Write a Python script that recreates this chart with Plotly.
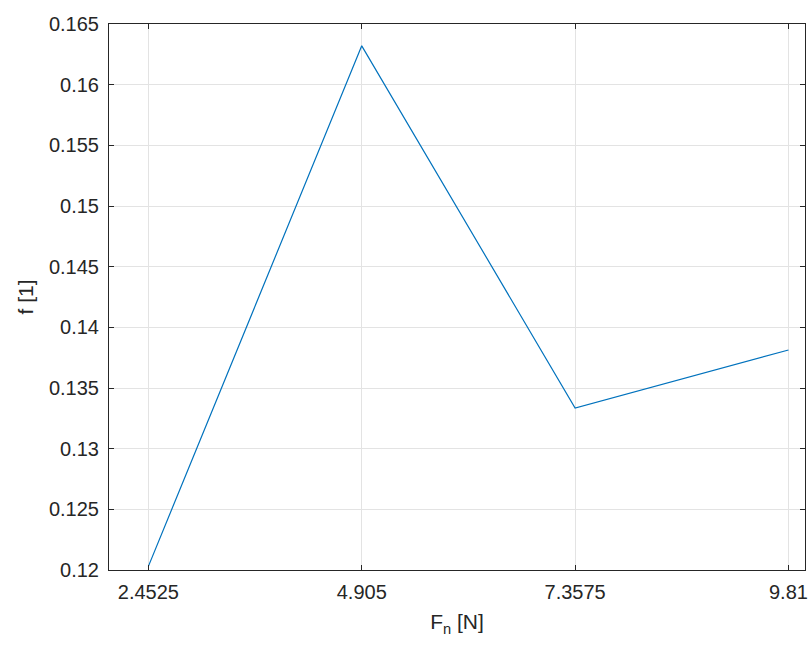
import plotly.graph_objects as go

Fn = [2.4525, 4.905, 7.3575, 9.81]
f = [0.1203, 0.1632, 0.13335, 0.13813]
xticks = [2.4525, 4.905, 7.3575, 9.81]
xticklabels = ["2.4525", "4.905", "7.3575", "9.81"]
yticks = [0.12, 0.125, 0.13, 0.135, 0.14, 0.145, 0.15, 0.155, 0.16, 0.165]
yticklabels = ["0.12", "0.125", "0.13", "0.135", "0.14", "0.145", "0.15", "0.155", "0.16", "0.165"]

fig = go.Figure()
fig.add_trace(go.Scatter(x=Fn, y=f, mode="lines",
                         line=dict(color="#0072BD", width=1.2), showlegend=False))

axcol = "#262626"
fnt = "Liberation Sans, Arial"
common = dict(showline=True, linecolor=axcol, linewidth=1, mirror="ticks",
              ticks="inside", ticklen=5, tickcolor=axcol, automargin=False,
              showgrid=True, gridcolor="#e3e3e3", gridwidth=1, zeroline=False,
              tickfont=dict(family=fnt, size=20, color=axcol))

fig.update_xaxes(range=[2, 10], tickvals=xticks, ticktext=xticklabels,
                 ticklabelstandoff=4,
                 title=dict(text="F<sub>n</sub> [N]", font=dict(family=fnt, size=21, color=axcol), standoff=12),
                 **common)
fig.update_yaxes(range=[0.12, 0.165], tickvals=yticks, ticktext=yticklabels,
                 ticklabelstandoff=5,
                 title=dict(text="f [1]", font=dict(family=fnt, size=21, color=axcol), standoff=9),
                 **common)

fig.update_layout(width=811, height=646, margin=dict(l=109, r=6, t=24, b=76),
                  plot_bgcolor="white", paper_bgcolor="white")

fig.write_html("out.html")
